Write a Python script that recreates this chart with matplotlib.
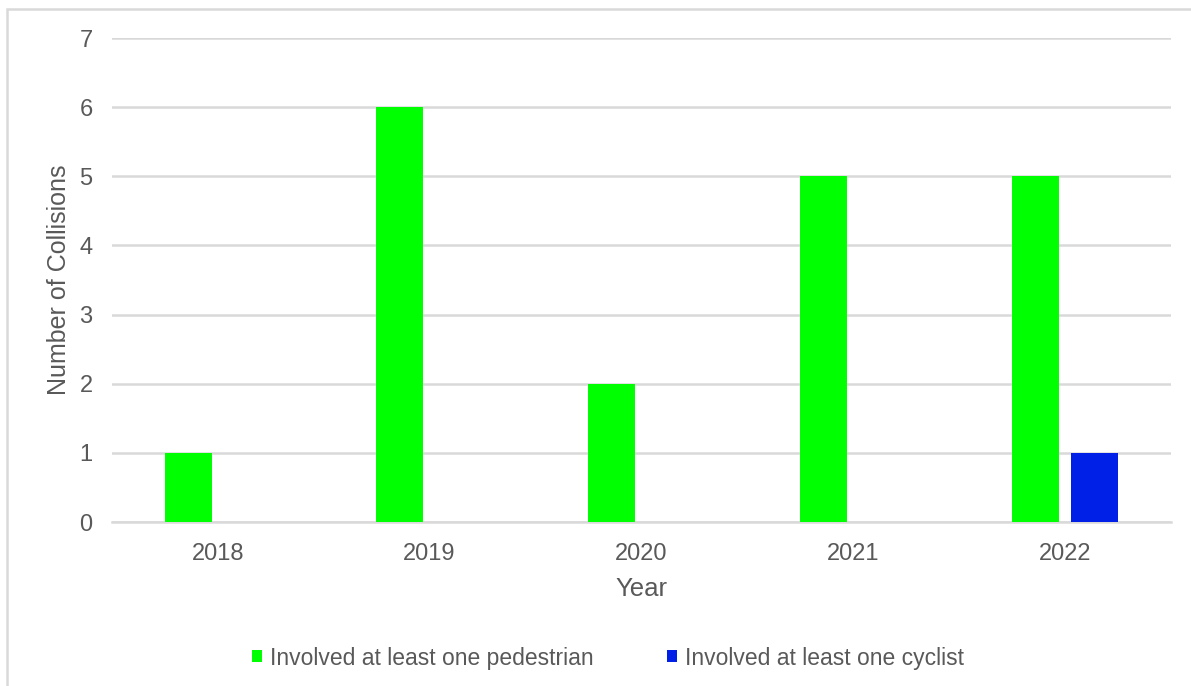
import matplotlib.pyplot as plt
import matplotlib.patches as patches
import numpy as np

plt.rcParams['font.family'] = ['Liberation Sans', 'DejaVu Sans']

# data
years = ['2018', '2019', '2020', '2021', '2022']
pedestrian = [1, 6, 2, 5, 5]
cyclist = [0, 0, 0, 0, 1]
series_names = ['Involved at least one pedestrian', 'Involved at least one cyclist']
y_ticks = [0, 1, 2, 3, 4, 5, 6, 7]

GREEN = '#00FF00'
BLUE = '#0020E8'
GRID = '#D9D9D9'
TEXT = '#595959'

fig = plt.figure(figsize=(11.91, 6.86), dpi=100)
ax = fig.add_axes([0.094, 0.239, 0.889, 0.7056])

# chart area border (Excel style)
fig.patches.append(patches.Rectangle((7 / 1191, -0.05), 1.1, 1 - 9 / 686 + 0.05,
                                     transform=fig.transFigure, fill=False,
                                     edgecolor=GRID, linewidth=1.8))

x = np.arange(len(years))
w = 0.222
off = 0.14
ax.bar(x - off, pedestrian, w, color=GREEN, label=series_names[0], zorder=3)
ax.bar(x + off, cyclist, w, color=BLUE, label=series_names[1], zorder=3)

ax.set_xlim(-0.5, len(years) - 0.5)
ax.set_ylim(0, 7)
ax.set_yticks(y_ticks)
ax.set_xticks(x)
ax.set_xticklabels(years)
ax.yaxis.grid(True, color=GRID, linewidth=1.8, zorder=0)
ax.set_axisbelow(True)
for s in ['top', 'right', 'left']:
    ax.spines[s].set_visible(False)
ax.spines['bottom'].set_color(GRID)
ax.spines['bottom'].set_linewidth(1.8)
ax.tick_params(axis='both', length=0, labelsize=17, colors=TEXT)
ax.tick_params(axis='y', pad=14)
ax.tick_params(axis='x', pad=15)

ax.set_xlabel('Year', fontsize=18.5, color=TEXT, labelpad=9)
ax.set_ylabel('Number of Collisions', fontsize=18, color=TEXT, labelpad=6)

fig.legend(loc='center', bbox_to_anchor=(608 / 1191, 1 - 658 / 686), ncol=2,
           frameon=False, fontsize=16.5, labelcolor=TEXT, handlelength=0.45,
           handleheight=0.45, handletextpad=0.35, columnspacing=3.2)

fig.savefig('out.png', dpi=100)
